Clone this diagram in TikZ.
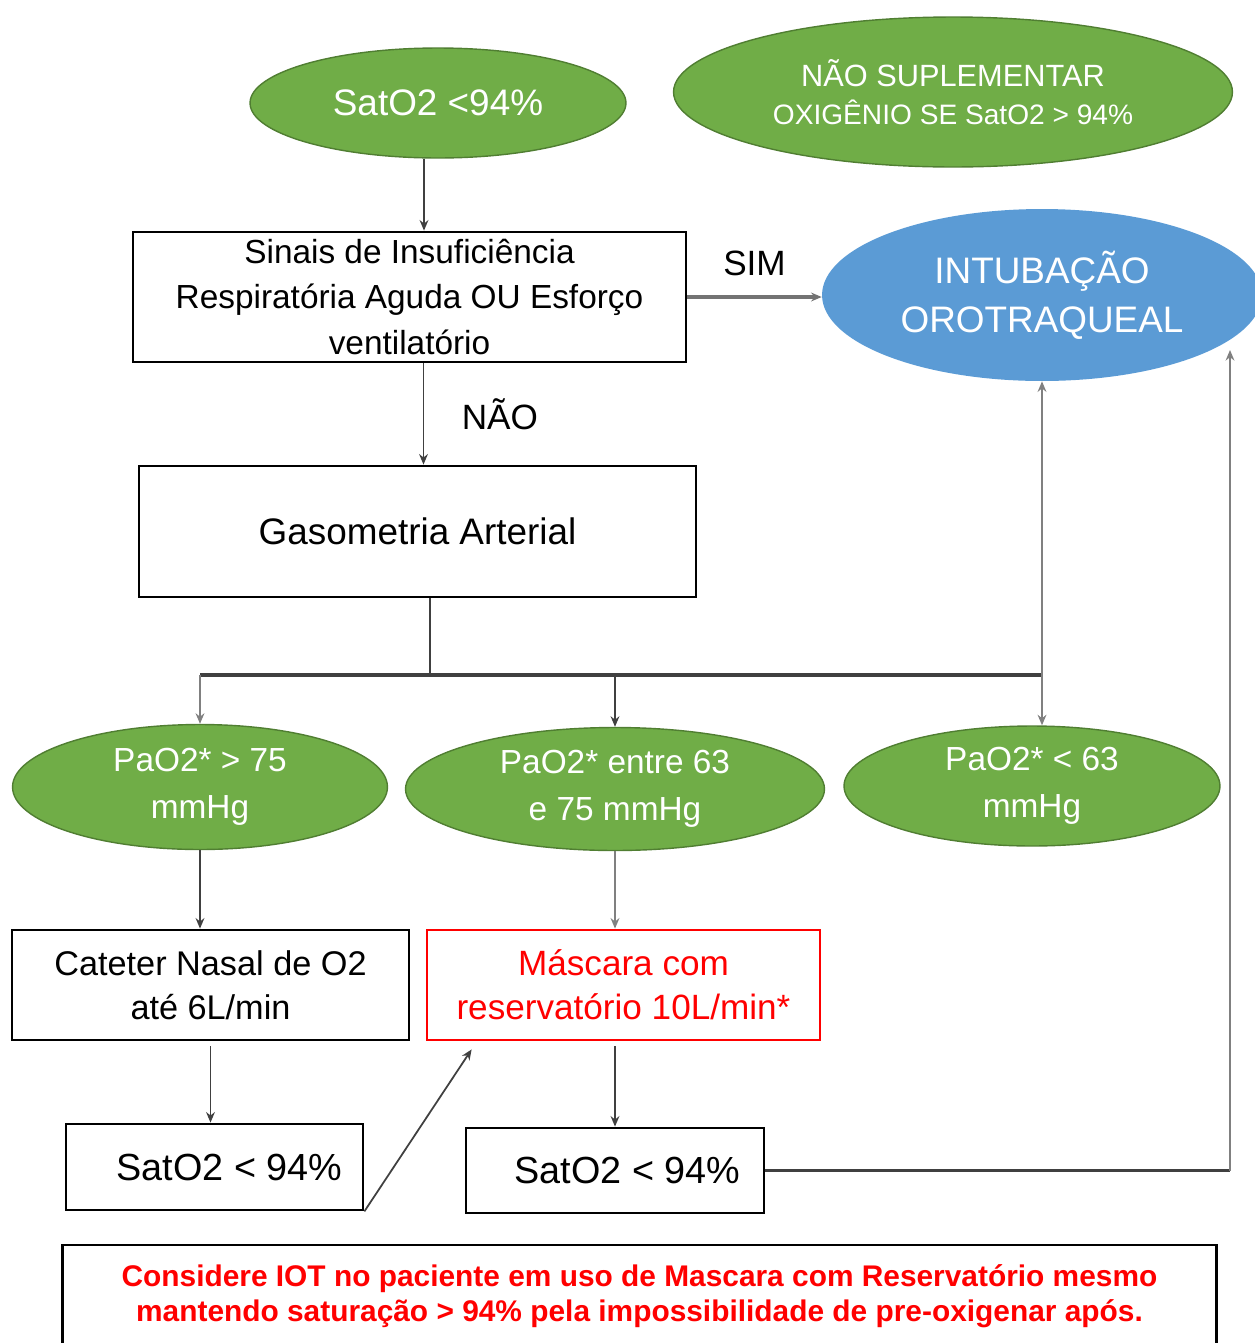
\documentclass[tikz,border=0pt]{standalone}
\usepackage{fontspec}
\setmainfont{Liberation Sans}
\usetikzlibrary{arrows.meta,shapes.geometric}
\definecolor{verde}{HTML}{70AD47}
\definecolor{verdeborda}{HTML}{507E32}
\definecolor{azul}{HTML}{5B9BD5}
\definecolor{linha}{HTML}{404040}
\begin{document}
\begin{tikzpicture}[x=0.02cm,y=-0.02cm,
		elipse/.style={ellipse,fill=verde,draw=verdeborda,line width=0.8pt,text=white,align=center,inner sep=0pt},
		caixa/.style={rectangle,draw=black,line width=1.6pt,align=center,inner sep=0pt},
		seta/.style={-{Stealth[length=6pt,width=5pt]},draw=linha,line width=1pt},
		fs/.style 2 args={font=\fontsize{#1}{#2}\selectfont}]
	\useasboundingbox (0,0) rectangle (1255,1343);
	\node (sat) [elipse,minimum width=7.52cm,minimum height=2.2cm,fs={21}{25}] at (438,103) {SatO2 <94\%};
	\node (nao) [elipse,minimum width=11.18cm,minimum height=3cm,fs={17.5}{22}] at (953,92) {NÃO SUPLEMENTAR\\\fontsize{16}{22}\selectfont OXIGÊNIO SE SatO2 > 94\%};
	\node (sinais) [caixa,minimum width=11.06cm,minimum height=2.6cm,fs={19}{26}] at (409.5,297) {Sinais de Insuficiência\\Respiratória Aguda OU Esforço\\ventilatório};
	\node (intub) [ellipse,fill=azul,text=white,align=center,inner sep=0pt,minimum width=8.8cm,minimum height=3.44cm,fs={21}{28}] at (1042,295) {INTUBAÇÃO\\OROTRAQUEAL};
	\node (gaso) [caixa,minimum width=11.14cm,minimum height=2.62cm,fs={21}{25}] at (417.5,531.5) {Gasometria Arterial};
	\node (p1) [elipse,minimum width=7.5cm,minimum height=2.5cm,fs={19}{27}] at (200,787) {PaO2* > 75\\mmHg};
	\node (p2) [elipse,minimum width=8.38cm,minimum height=2.46cm,fs={19}{27}] at (615,789) {PaO2* entre 63\\e 75 mmHg};
	\node (p3) [elipse,minimum width=7.52cm,minimum height=2.4cm,fs={19}{27}] at (1032,786) {PaO2* < 63\\mmHg};
	\node (cat) [caixa,minimum width=7.94cm,minimum height=2.2cm,fs={19.5}{25}] at (210.5,985) {Cateter Nasal de O2\\até 6L/min};
	\node (mas) [caixa,draw=red,text=red,minimum width=7.86cm,minimum height=2.2cm,fs={20}{25}] at (623.5,985) {Máscara com\\reservatório 10L/min*};
	\node (s1) [caixa,minimum width=5.94cm,minimum height=1.72cm,fs={21.5}{24}] at (214.5,1167) {\hspace*{0.6cm}SatO2 < 94\%};
	\node (s2) [caixa,minimum width=5.96cm,minimum height=1.7cm,fs={21.5}{24}] at (615,1170.5) {\hspace*{0.5cm}SatO2 < 94\%};
	\node (nota) [caixa,minimum width=23.1cm,minimum height=2.4cm,text=red,fs={17}{20}] at (639.5,1305) {\bfseries Considere IOT no paciente em uso de Mascara com Reservatório mesmo\\\bfseries mantendo saturação > 94\% pela impossibilidade de pre-oxigenar após.\\[-6pt]\mbox{}};
	\coordinate (br) at (430,675);
	\coordinate (rt) at (1230,350);
	% fluxo principal
	\draw[seta] ([xshift=-0.28cm]sat.south) -- ([xshift=-0.28cm]sat.south |- sinais.north);
	\draw[seta,draw=gray!90!black,line width=1.8pt] (sinais.east) -- (intub.west |- sinais.east) node [midway,above=8pt,fs={20}{24},text=black] {SIM};
	\draw[seta] ([xshift=0.28cm]sinais.south) -- ([xshift=0.28cm]sinais.south |- gaso.north) node [midway,right=18pt,fs={20}{24}] {NÃO};
	% ramos da gasometria
	\draw[linha,line width=1pt] (gaso.south -| br) -- (br);
	\draw[linha,line width=2.2pt] (p1.north |- br) -- (intub.south |- br);
	\draw[seta,draw=gray] (p1.north |- br) -- (p1.north);
	\draw[seta] (p2.north |- br) -- (p2.north);
	\draw[seta,draw=gray] (intub.south |- br) -- (intub.south |- p3.north);
	\draw[seta,draw=gray] (intub.south |- br) -- (intub.south);
	% condutas
	\draw[seta] (p1.south) -- (p1.south |- cat.north);
	\draw[seta,draw=gray] (p2.south) -- (p2.south |- mas.north);
	\draw[seta] ([yshift=-0.1cm]cat.south) -- (cat.south |- s1.north);
	\draw[seta] ([yshift=-0.1cm]s2.north |- mas.south) -- (s2.north);
	\draw[seta] (s1.south east) -- ([xshift=0.92cm,yshift=-0.16cm]mas.south west);
	\draw[linha,line width=2.2pt] (s2.east) -- (s2.east -| rt);
	\draw[seta,draw=gray] (s2.east -| rt) -- (rt);
\end{tikzpicture}
\end{document}
